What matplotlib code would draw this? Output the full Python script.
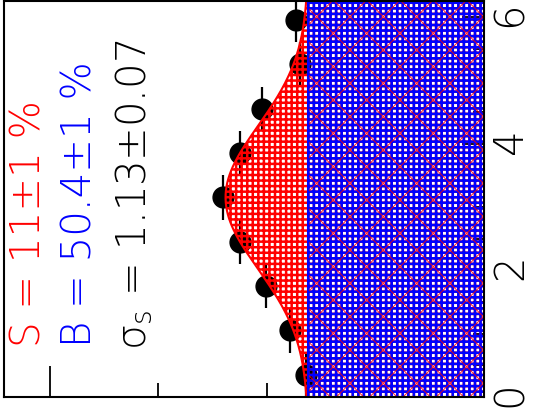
import numpy as np
import matplotlib
matplotlib.use("Agg")
import matplotlib.pyplot as plt

# data: bin centres of the fitted variable and the counts in each bin
bin_width = 0.7
bin_centers = [0.35, 1.05, 1.75, 2.45, 3.15, 3.85, 4.55, 5.25, 5.95]
counts = [164, 179, 201, 225, 240, 225, 204, 169, 173]

# fit result: flat background + gaussian signal
bkg_level = 162
sig_amp = 76
sig_mean = 3.15
sig_sigma = 1.13

x_max = 6.25
count_max = 442

label_s = "S = 11\u00b11 %"
label_b = "B = 50.4\u00b11 %"
label_sig = r"$\sigma_s$" + " = 1.13\u00b10.07"

plt.rcParams["font.family"] = ["DejaVu Sans"]
plt.rcParams["mathtext.fontset"] = "custom"
plt.rcParams["mathtext.rm"] = "DejaVu Sans:light"
plt.rcParams["mathtext.it"] = "DejaVu Sans:light"
plt.rcParams["hatch.linewidth"] = 1.8

fig = plt.figure(figsize=(5.33, 4.08), dpi=100)
ax = fig.add_axes([4 / 533, 11 / 408, 480 / 533, 396 / 408])

# points first, the fills are drawn over them (as in the original)
ax.errorbar(counts, bin_centers, yerr=bin_width / 2, fmt="o", color="black",
            ms=15, elinewidth=1.6, capsize=0, zorder=1)

yy = np.linspace(0, x_max, 300)
total = bkg_level + sig_amp * np.exp(-0.5 * ((yy - sig_mean) / sig_sigma) ** 2)

# signal (stacked on background)
ax.fill_betweenx(yy, 0, total, facecolor="none", edgecolor="red",
                 hatch="+++", linewidth=0, zorder=2)
ax.plot(total, yy, color="red", lw=1.5, zorder=2.2)

# background
ax.fill_betweenx([0, x_max], 0, bkg_level, facecolor="none", edgecolor="blue",
                 hatch="+++", linewidth=0, zorder=3)
ax.plot([bkg_level, bkg_level], [0, x_max], color="blue", lw=1.5, zorder=3.2)

# sparse red diagonals across the background pattern
with plt.rc_context({"hatch.linewidth": 0.7}):
    ax.fill_betweenx([0, x_max], 0, bkg_level, facecolor="none",
                     edgecolor=(1, 0, 0, 0.85), hatch="x", linewidth=0, zorder=3.1)

ax.set_xlim(count_max, 0)
ax.set_ylim(0, x_max)

ax.yaxis.tick_right()
ax.set_yticks([0, 2, 4, 6])
ax.set_yticks(np.arange(0, x_max, 0.5), minor=True)
ax.tick_params(axis="y", which="both", direction="in", right=True, left=False,
               labelright=True, labelleft=False, labelrotation=90,
               labelsize=29, pad=5, width=1.3)
ax.tick_params(axis="y", which="major", length=16)
ax.tick_params(axis="y", which="minor", length=8)
for lab in ax.get_yticklabels():
    lab.set_fontweight("light")

ax.set_xticks([400])
ax.set_xticks([100, 200, 300], minor=True)
ax.tick_params(axis="x", which="both", direction="in", bottom=True, top=False,
               labelbottom=False, width=1.3)
ax.tick_params(axis="x", which="major", length=22)
ax.tick_params(axis="x", which="minor", length=10)

for sp in ax.spines.values():
    sp.set_linewidth(1.5)
    sp.set_zorder(5)

# fit results, rotated like the rest of the plot
fs = 29
fig.text(40 / 533, 1 - 347 / 408, label_s, color="red", fontsize=fs,
         fontweight="light", rotation=90, rotation_mode="anchor",
         ha="left", va="baseline")
fig.text(92 / 533, 1 - 347 / 408, label_b, color="blue", fontsize=fs,
         fontweight="light", rotation=90, rotation_mode="anchor",
         ha="left", va="baseline")
fig.text(145 / 533, 1 - 350 / 408, label_sig, color="black", fontsize=fs,
         fontweight="light", rotation=90, rotation_mode="anchor",
         ha="left", va="baseline")

fig.savefig("out.png", dpi=100)
